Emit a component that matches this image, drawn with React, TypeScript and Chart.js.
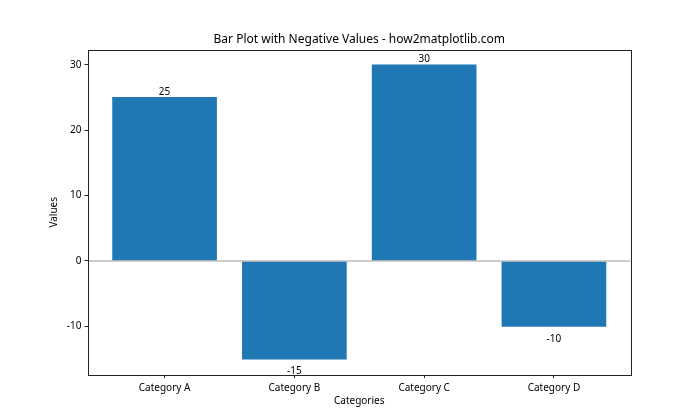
import React, { useEffect, useRef } from "react";
import { Chart, registerables } from "chart.js";

Chart.register(...registerables);

const categories = ["Category A", "Category B", "Category C", "Category D"];
const values = [25, -15, 30, -10];
const yTicks = [-10, 0, 10, 20, 30];
const xTicks = [0, 1, 2, 3];

const FONT = "'Noto Sans', 'DejaVu Sans', sans-serif";

const decor = {
  id: "decor",
  afterDatasetsDraw(chart: any) {
    const { ctx, chartArea, scales } = chart;
    const y0 = scales.y.getPixelForValue(0);
    ctx.save();
    ctx.strokeStyle = "#bdbdbd";
    ctx.lineWidth = 1.6;
    ctx.beginPath();
    ctx.moveTo(chartArea.left, y0);
    ctx.lineTo(chartArea.right, y0);
    ctx.stroke();
    // value labels
    ctx.fillStyle = "#000";
    ctx.font = `10px ${FONT}`;
    ctx.textAlign = "center";
    const meta = chart.getDatasetMeta(0);
    meta.data.forEach((bar: any, i: number) => {
      const v = values[i];
      if (v >= 0) {
        ctx.textBaseline = "bottom";
        ctx.fillText(String(v), bar.x, bar.y - 0.5);
      } else {
        ctx.textBaseline = "middle";
        ctx.fillText(String(v), bar.x, bar.y + 12.5);
      }
    });
    // border
    ctx.strokeStyle = "#222";
    ctx.lineWidth = 1;
    ctx.strokeRect(
      Math.round(chartArea.left) + 0.5,
      Math.round(chartArea.top) + 0.5,
      Math.round(chartArea.right - chartArea.left),
      Math.round(chartArea.bottom - chartArea.top)
    );
    // titles
    ctx.fillStyle = "#000";
    ctx.font = `12px ${FONT}`;
    ctx.textAlign = "center";
    ctx.textBaseline = "middle";
    const cx = (chartArea.left + chartArea.right) / 2;
    ctx.fillText("Bar Plot with Negative Values - how2matplotlib.com", cx, 40);
    ctx.font = `10px ${FONT}`;
    ctx.fillText("Categories", cx, 401);
    ctx.translate(54, (chartArea.top + chartArea.bottom) / 2);
    ctx.rotate(-Math.PI / 2);
    ctx.fillText("Values", 0, 0);
    ctx.restore();
  },
};

export default function App() {
  const ref = useRef<HTMLCanvasElement>(null);
  useEffect(() => {
    document.body.style.margin = "0";
    const chart = new Chart(ref.current as HTMLCanvasElement, {
      type: "bar",
      data: {
        datasets: [
          {
            data: values.map((v, i) => ({ x: i, y: v })),
            backgroundColor: "#1f77b4",
            borderWidth: 0,
            barThickness: 104,
          },
        ],
      },
      options: {
        animation: false,
        responsive: false,
        devicePixelRatio: 1,
        layout: { padding: { left: 0, top: 50, right: 69.5, bottom: 0 } },
        plugins: { legend: { display: false }, tooltip: { enabled: false } },
        scales: {
          x: {
            type: "linear",
            min: -0.59,
            max: 3.59,
            offset: false,
            grid: { display: true, offset: false, drawOnChartArea: false, tickLength: 3.5, color: "#222", tickColor: "#222" },
            border: { display: false },
            afterBuildTicks: (s: any) => {
              s.ticks = xTicks.map((v) => ({ value: v }));
            },
            afterFit: (s: any) => {
              s.height = 45.5;
            },
            ticks: {
              padding: 4,
              color: "#000",
              font: { family: FONT, size: 10 },
              maxRotation: 0,
              autoSkip: false,
              callback: (v: any) => categories[v] ?? "",
            },
          },
          y: {
            type: "linear",
            min: -17.35,
            max: 32.25,
            grid: { display: true, drawOnChartArea: false, tickLength: 3.5, color: "#222", tickColor: "#222" },
            border: { display: false },
            afterBuildTicks: (s: any) => {
              s.ticks = yTicks.map((v) => ({ value: v }));
            },
            afterFit: (s: any) => {
              s.width = 88;
            },
            ticks: {
              padding: 3,
              color: "#000",
              font: { family: FONT, size: 10 },
              callback: (v: any) => String(v),
            },
          },
        },
      },
      plugins: [decor],
    });
    return () => chart.destroy();
  }, []);
  return (
    <div style={{ width: 700, height: 420, background: "#fff" }}>
      <canvas ref={ref} width={700} height={420} style={{ width: 700, height: 420, display: "block" }} />
    </div>
  );
}
